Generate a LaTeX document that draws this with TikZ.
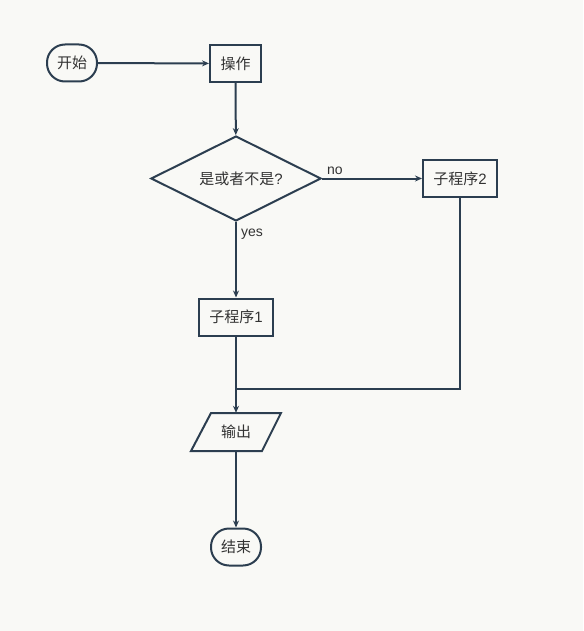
\documentclass[tikz,border=0pt]{standalone}
\usepackage{fontspec}
\setmainfont{Liberation Sans}
\newfontfamily\cjk{Noto Sans CJK SC}
\usetikzlibrary{shapes.geometric,arrows.meta}
\definecolor{bg}{HTML}{F9F9F6}
\definecolor{ln}{HTML}{2C3E50}
\definecolor{tx}{HTML}{333333}
\tikzset{
  base/.style={draw=ln, line width=2pt, text=tx, font=\fontsize{15}{18}\selectfont\cjk, inner sep=0pt},
  term/.style={base, rounded corners=18pt, minimum width=50pt, minimum height=37pt},
  proc/.style={base, minimum width=51pt, minimum height=37pt},
  procw/.style={base, minimum width=74pt, minimum height=37pt},
  decis/.style={base, diamond, aspect=2, minimum width=170pt, minimum height=85pt},
  conn/.style={draw=ln, line width=2pt, -{Stealth[length=7pt,width=6pt]}},
  plain/.style={draw=ln, line width=2pt},
  lbl/.style={text=tx, font=\fontsize{14}{16}\selectfont, inner sep=0pt}
}
\begin{document}
\begin{tikzpicture}[x=1pt,y=-1pt]
\fill[bg] (0,0) rectangle (583,631);
\useasboundingbox (0,0) rectangle (583,631);
\node[term] (start) at (72,63) {开始};
\node[proc] (op) at (235.5,63.5) {操作};
\node[decis] (dec) at (236,178.5) {};
\node[text=tx, font=\fontsize{15}{18}\selectfont\cjk, inner sep=0pt] (dectext) at (241,178.5) {是或者不是\fontspec{Liberation Sans}?};
\node[procw] (sub2) at (460,178.5) {子程序{\fontspec{Liberation Sans}2}};
\node[procw] (sub1) at (236,317) {子程序{\fontspec{Liberation Sans}1}};
\node[minimum width=90pt, minimum height=38pt, inner sep=0pt] (out) at (236,432) {};
\draw[base] (211,413) -- (281,413) -- (262,451) -- (191,451) -- cycle;
\node[text=tx, font=\fontsize{15}{18}\selectfont\cjk] at (out.center) {输出};
\node[term] (end) at (236,547) {结束};
\coordinate (join) at (236,389);
\draw[conn] (start) -- (op);
\draw[conn] (op) -- (dec);
\draw[conn] (dec.east) -- (sub2.west);
\draw[conn] (dec.south) -- (sub1.north);
\draw[plain] (sub2.south) |- (join);
\draw[conn] (sub1.south) -- (out.north);
\draw[conn] (out.south) -- (end.north);
\node[lbl, anchor=south west] (no) at ([xshift=5pt,yshift=4pt]dec.east) {no};
\node[lbl, anchor=north west] (yes) at ([xshift=5pt,yshift=-7pt]dec.south) {yes};
\end{tikzpicture}
\end{document}
